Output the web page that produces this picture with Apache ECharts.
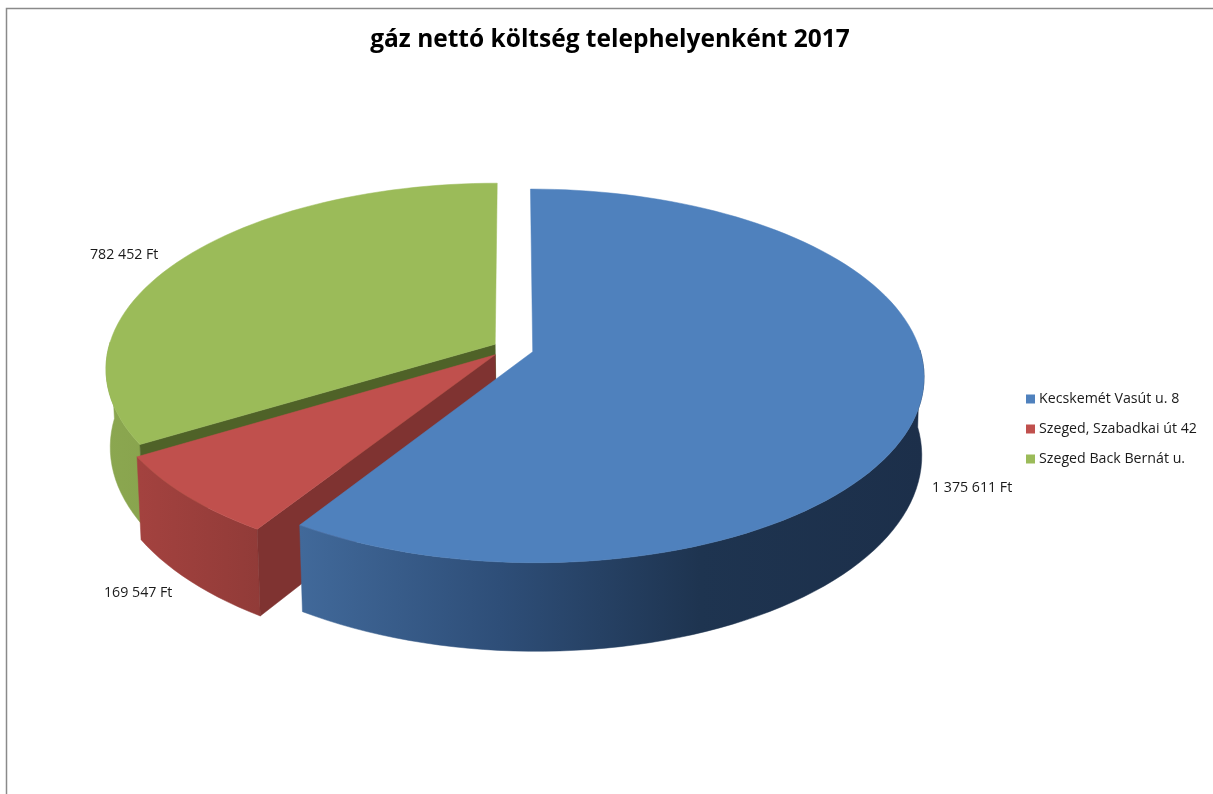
<!DOCTYPE html>
<html>
<head>
<meta charset="utf-8">
<style>html,body{margin:0;padding:0;background:#fff}#c{width:1213px;height:794px}</style>
<script src="https://cdn.jsdelivr.net/npm/echarts@6/dist/echarts.min.js"></script>
</head>
<body>
<div id="c"></div>
<script>
const titleText = 'gáz nettó költség telephelyenként 2017';
const categories = ['Kecskemét Vasút u. 8', 'Szeged, Szabadkai út 42', 'Szeged Back Bernát u.'];
const values = [1375611, 169547, 782452];
const valueLabels = ['1 375 611 Ft', '169 547 Ft', '782 452 Ft'];
const topColors = ['#4F81BD', '#C0504D', '#9BBB59'];
const cutColors = ['#1F3450', '#7F3331', '#4F6228'];
const wallStops = [
  [[300, '#41699A'], [500, '#2E4E78'], [700, '#1E3450'], [925, '#1C2F4A']],
  [[140, '#A3423F'], [260, '#913B38']],
  [[105, '#8BA750'], [160, '#88A34D']]
];
const labelSpots = [[932, 488], [104, 593], [90, 255]];
const sliceNudges = [[0, 0], [-3, -1], [0, 0]];

// view model of the tilted disc
const view = {x: 513, y: 349, a: 387, b: 183, k: 0.129, h: 77, shrink: 0.992, shift: 1, explode: 0.053};
const total = values.reduce((s, v) => s + v, 0);

function project(u, v, low, nudge) {
  const w = 1 - view.k * v;
  const s = low ? view.shrink : 1;
  return [view.x + nudge[0] + (low ? view.shift : 0) + s * view.a * u / w,
          view.y + nudge[1] + view.b * v / w + (low ? view.h / w : 0)];
}
function sliceGeometry(i) {
  const before = values.slice(0, i).reduce((s, v) => s + v, 0);
  const a0 = before / total * 2 * Math.PI;
  const a1 = (before + values[i]) / total * 2 * Math.PI;
  const mid = (a0 + a1) / 2;
  const ou = Math.sin(mid) * view.explode, ov = -Math.cos(mid) * view.explode;
  const n = Math.max(8, Math.ceil((a1 - a0) / (Math.PI / 90)));
  const rim = [], front = [];
  for (let j = 0; j <= n; j++) {
    const t = a0 + (a1 - a0) * j / n;
    const p = [ou + Math.sin(t), ov - Math.cos(t)];
    rim.push(p);
    if (-Math.cos(t) > -0.02) front.push(p); // only the rim part that faces the viewer gets a wall
  }
  return {rim, front, centre: [ou, ov], a0, a1};
}
function renderSlice(i) {
  return function () {
    const g = sliceGeometry(i);
    const nudge = sliceNudges[i];
    const P = p => project(p[0], p[1], false, nudge), L = p => project(p[0], p[1], true, nudge);
    const first = g.rim[0], last = g.rim[g.rim.length - 1];
    const stops = wallStops[i];
    const x0 = stops[0][0], x1 = stops[stops.length - 1][0];
    const fill = new echarts.graphic.LinearGradient(x0, 0, x1, 0,
      stops.map(s => ({offset: (s[0] - x0) / (x1 - x0), color: s[1]})), true);
    const poly = (points, f) => ({type: 'polygon', shape: {points}, style: {fill: f, stroke: f, lineWidth: 0.5}});
    const cut = p => [P(g.centre), P(p), L(p), L(g.centre)];
    const children = [];
    children.push(poly(g.front.map(P).concat(g.front.slice().reverse().map(L)), fill));
    // a cut face is drawn only when it turns towards the viewer
    if (Math.sin(g.a0) < -1e-9) children.push(poly(cut(first), cutColors[i]));
    if (Math.sin(g.a1) > 1e-9) children.push(poly(cut(last), cutColors[i]));
    children.push(poly([P(g.centre)].concat(g.rim.map(P)), topColors[i]));
    children.push({type: 'text', style: {text: valueLabels[i], x: labelSpots[i][0], y: labelSpots[i][1],
      fill: '#1a1a1a', font: '14.2px "Open Sans"', textAlign: 'left', textVerticalAlign: 'middle'}});
    return {type: 'group', children};
  };
}

const chart = echarts.init(document.getElementById('c'), null, {renderer: 'canvas'});
chart.setOption({
  animation: false,
  backgroundColor: '#fff',
  title: {text: titleText, left: 605, top: 23, textAlign: 'center',
    textStyle: {fontFamily: 'Open Sans', fontWeight: 'bold', fontSize: 24.5, color: '#000'}},
  legend: {orient: 'vertical', left: 1021, top: 387, icon: 'rect', itemWidth: 9, itemHeight: 9, itemGap: 16,
    data: categories, selectedMode: false,
    textStyle: {fontFamily: 'Open Sans', fontSize: 14.2, color: '#1a1a1a', padding: [0, 0, 0, -1]}},
  graphic: [
    {type: 'rect', shape: {x: 6.5, y: 8.5, width: 1300, height: 900}, style: {fill: 'none', stroke: '#8a8a8a', lineWidth: 1.5}, silent: true}
  ],
  series: [2, 1, 0].map(i => ({
    type: 'custom', name: categories[i], coordinateSystem: 'none', silent: true,
    itemStyle: {color: topColors[i]},
    data: [values[i]],
    renderItem: renderSlice(i)
  }))
});
</script>
</body>
</html>
